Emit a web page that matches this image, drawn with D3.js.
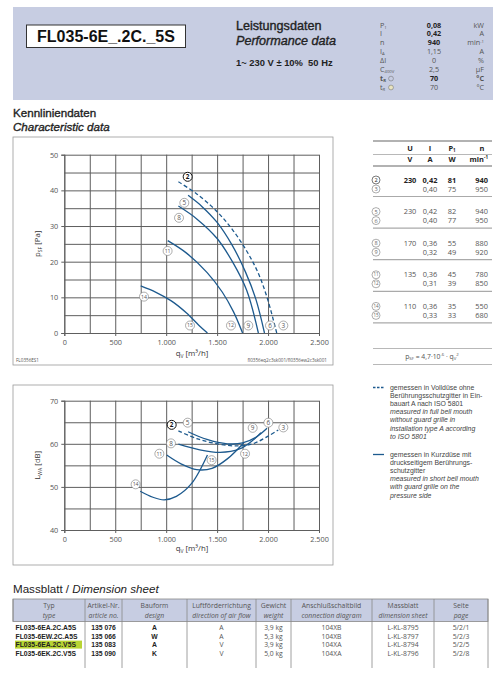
<!DOCTYPE html>
<meta charset="utf-8">
<title>FL035-6E_.2C._5S</title>
<style>
body{margin:0;background:#fff}
svg{display:block;font-family:"Liberation Sans",Arial,sans-serif}
</style>
<svg id="sheet" width="499" height="700"></svg>
<script src="https://cdn.jsdelivr.net/npm/d3@7"></script>
<script>
// ---------- data read from the sheet ----------
const modelName = "FL035-6E_.2C._5S";

const perfSymbols = ["P", "I", "n", "I", "ΔI", "C", "t", "t"];
const perfSubs    = ["1", "", "", "A", "", "400V", "R", "R"];
const perfValues  = ["0,08", "0,42", "940", "1,15", "0", "2,5", "70", "70"];
const perfUnits   = ["kW", "A", "min", "A", "%", "µF", "°C", "°C"];
const perfBold    = [true, true, true, false, false, false, true, false];

const qTicks = [0, 500, 1000, 1500, 2000, 2500];
const qTickLabels = ["0", "500", "1.000", "1.500", "2.000", "2.500"];
const psfTicks = [0, 10, 20, 30, 40, 50];
const lwaTicks = [40, 50, 60, 70];

// static pressure curves [q m3/h, psf Pa]
const psf2to3 = [[1120,42.4],[1300,39],[1500,34],[1650,29],[1790,23],[1900,17],[1990,10],[2085,0]];
const psf5to6 = [[1215,38.6],[1350,35.5],[1500,31],[1650,24.5],[1780,17],[1880,9.5],[1965,0]];
const psf8to9 = [[1120,35.6],[1300,32],[1500,26.5],[1650,20],[1790,12],[1905,0]];
const psf11to12 = [[1015,25.9],[1200,22.4],[1400,17],[1550,11.5],[1660,6],[1750,0]];
const psf14to15 = [[750,13.2],[900,11.4],[1050,9],[1200,5.6],[1320,2.2],[1405,0]];

const psfLabelIds = ["2","5","8","11","14","15","12","9","6","3"];
const psfLabelQ   = [1211,1178,1126,1014,782,1234,1636,1806,2019,2150];
const psfLabelP   = [43.8,36.5,32.3,23,10.2,2.1,2.1,2.1,2.1,2.1];

// sound power curves [q m3/h, LwA dB]
const lwa2to3 = [[1120,63],[1300,61.2],[1500,60],[1700,59.5],[1850,60],[1980,61.5],[2100,63.2]];
const lwa5to6 = [[1215,62.8],[1400,61],[1600,60],[1750,60.2],[1880,61.5],[1990,63.6]];
const lwa8to9 = [[1120,59.9],[1330,58.6],[1530,58],[1720,58.8],[1850,60.8],[1930,62.6]];
const lwa11to12 = [[1005,57.4],[1150,55.3],[1300,54],[1450,54.3],[1600,56.5],[1760,60.2]];
const lwa14to15 = [[745,49],[870,47.6],[980,47],[1100,47.8],[1250,50.8],[1405,57.4]];

const lwaLabelIds = ["2","5","8","11","14","15","12","9","6","3"];
const lwaLabelQ   = [1054,1211,1047,933,700,1446,1774,1849,2003,2150];
const lwaLabelL   = [64.4,64.9,60.1,57.7,50.6,56.2,57.7,63.7,64.9,63.8];

// operating points table
const opIds = ["2","3","5","6","8","9","11","12","14","15"];
const opU   = ["230","","230","","170","","135","","110",""];
const opI   = ["0,42","0,40","0,42","0,40","0,36","0,32","0,36","0,31","0,36","0,33"];
const opP   = ["81","75","82","77","55","49","45","39","35","33"];
const opN   = ["940","950","940","950","880","920","780","850","550","680"];

const legendDashed = ["gemessen in Volldüse ohne", "Berührungsschutzgitter in Ein-", "bauart A nach ISO 5801",
  "measured in full bell mouth", "without guard grille in", "installation type A according", "to ISO 5801"];
const legendSolid = ["gemessen in Kurzdüse mit", "druckseitigem Berührungs-", "schutzgitter",
  "measured in short bell mouth", "with guard grille on the", "pressure side"];

// dimension sheet table
const dimHeadDe = ["Typ", "Artikel-Nr.", "Bauform", "Luftförderrichtung", "Gewicht", "Anschlußschaltbild", "Massblatt", "Seite"];
const dimHeadEn = ["type", "article no.", "design", "direction of air flow", "weight", "connection diagram", "dimension sheet", "page"];
const dimTypes    = ["FL035-6EA.2C.A5S", "FL035-6EW.2C.A5S", "FL035-6EA.2C.V5S", "FL035-6EK.2C.V5S"];
const dimArticles = ["135 076", "135 066", "135 083", "135 090"];
const dimDesign   = ["A", "W", "A", "K"];
const dimAirflow  = ["A", "A", "V", "V"];
const dimWeight   = ["3,9 kg", "5,3 kg", "3,9 kg", "5,0 kg"];
const dimDiagram  = ["104XB", "104XB", "104XA", "104XA"];
const dimSheet    = ["L-KL-8795", "L-KL-8797", "L-KL-8794", "L-KL-8796"];
const dimPage     = ["5/2/1", "5/2/3", "5/2/5", "5/2/8"];
const highlightType = "FL035-6EA.2C.V5S";

// ---------- drawing ----------
const svg = d3.select("#sheet");
const blue = "#1d5a8e";
const grey = "#555";
const chartFont = "'Open Sans','Liberation Sans',sans-serif";

// medium-weight headings: regular face with a hairline stroke
function heading(xp, yp, size, txt, italic) {
  return svg.append("text").attr("x", xp).attr("y", yp).attr("font-size", size)
    .attr("font-style", italic ? "italic" : null).attr("fill", "#222")
    .attr("stroke", "#222").attr("stroke-width", 0.35).text(txt);
}

// header band
svg.append("rect").attr("x", 13).attr("y", 7).attr("width", 480).attr("height", 93).attr("fill", "#c7cde2");
svg.append("rect").attr("x", 26.5).attr("y", 25).attr("width", 159).attr("height", 22.5)
  .attr("fill", "#fff").attr("stroke", "#333").attr("stroke-width", 1);
svg.append("text").attr("x", 106).attr("y", 42).attr("text-anchor", "middle")
  .attr("font-size", 16).attr("font-weight", "bold").attr("fill", "#111").text(modelName);

heading(236, 30, 12.6, "Leistungsdaten");
heading(236, 44.5, 12.6, "Performance data", true);
svg.append("text").attr("x", 236).attr("y", 66).attr("font-size", 9.4).attr("font-weight", "bold").attr("fill", "#222")
  .text("1~ 230 V ± 10%\u00a0 50 Hz");

const perf = svg.append("g").attr("font-family", chartFont).attr("font-size", 7.2).attr("fill", "#555");
perfSymbols.forEach((s, i) => {
  const y = 27.5 + i * 8.9;
  const t = perf.append("text").attr("x", 380).attr("y", y).attr("font-weight", perfBold[i] && i > 5 ? "bold" : null);
  t.append("tspan").text(s);
  if (perfSubs[i]) t.append("tspan").attr("font-size", 4.2).attr("dy", 1).text(perfSubs[i]);
  if (i > 5) {
    perf.append("circle").attr("cx", 391).attr("cy", y - 2.3).attr("r", 2.4)
      .attr("fill", i === 6 ? "none" : "#e9e4c0").attr("stroke", "#666").attr("stroke-width", 0.5);
  }
  perf.append("text").attr("x", 434).attr("y", y).attr("text-anchor", "middle")
    .attr("font-weight", perfBold[i] ? "bold" : null).attr("fill", perfBold[i] ? "#222" : "#555").text(perfValues[i]);
  const u = perf.append("text").attr("x", 484).attr("y", y).attr("text-anchor", "end")
    .attr("font-weight", i === 6 ? "bold" : null);
  u.append("tspan").text(perfUnits[i]);
  if (perfUnits[i] === "min") u.append("tspan").attr("font-size", 4.2).attr("dy", -2.6).text("-1");
});

heading(13, 117, 11.6, "Kennliniendaten");
heading(13, 130.5, 11.6, "Characteristic data", true);

// shared flow scale
const x = d3.scaleLinear().domain([0, 2500]).range([64.3, 319]);

function drawChart(frame, y, yTicks, gridStep, yLabel, ySub, xLabelY, curves, labels) {
  const g = svg.append("g");
  g.append("rect").attr("x", frame[0]).attr("y", frame[1]).attr("width", frame[2]).attr("height", frame[3])
    .attr("fill", "none").attr("stroke", "#999").attr("stroke-width", 0.8);
  const [y0, y1] = y.range();
  const [d0, d1] = y.domain();

  // grid
  g.append("g").attr("transform", `translate(0,${y0})`)
    .call(d3.axisBottom(x).tickValues(d3.range(0, 2501, 250)).tickSize(-(y0 - y1)).tickFormat(""))
    .call(a => a.select(".domain").remove())
    .call(a => a.selectAll("line").attr("stroke", "#5e5e5e").attr("stroke-width", 1));
  g.append("g").attr("transform", `translate(${x(0)},0)`)
    .call(d3.axisLeft(y).tickValues(d3.range(d0, d1 + 0.01, gridStep)).tickSize(-(x(2500) - x(0))).tickFormat(""))
    .call(a => a.select(".domain").remove())
    .call(a => a.selectAll("line").attr("stroke", "#5e5e5e").attr("stroke-width", 1));

  // axes labels
  g.append("g").attr("transform", `translate(0,${y0})`)
    .call(d3.axisBottom(x).tickValues(qTicks).tickSize(3).tickPadding(4).tickFormat((d, i) => qTickLabels[i]))
    .call(a => a.select(".domain").attr("stroke", "#5e5e5e"))
    .call(a => a.selectAll("line").attr("stroke", "#5e5e5e"))
    .call(a => a.selectAll("text").attr("font-family", chartFont).attr("font-size", 7.3).attr("fill", grey));
  g.append("g").attr("transform", `translate(${x(0)},0)`)
    .call(d3.axisLeft(y).tickValues(yTicks).tickSize(3).tickPadding(3))
    .call(a => a.select(".domain").attr("stroke", "#5e5e5e"))
    .call(a => a.selectAll("line").attr("stroke", "#5e5e5e"))
    .call(a => a.selectAll("text").attr("font-family", chartFont).attr("font-size", 7.3).attr("fill", grey));

  const yl = g.append("text").attr("transform", `translate(40,${(y0 + y1) / 2}) rotate(-90)`)
    .attr("text-anchor", "middle").attr("font-family", chartFont).attr("font-size", 7.8).attr("fill", "#333");
  yl.append("tspan").text(yLabel);
  yl.append("tspan").attr("font-size", 5).attr("dy", 1.5).text(ySub);
  yl.append("tspan").attr("dy", -1.5).text(" [" + (ySub === "SF" ? "Pa" : "dB") + "]");

  const xl = g.append("text").attr("x", 192).attr("y", xLabelY).attr("text-anchor", "middle")
    .attr("font-family", chartFont).attr("font-size", 7.8).attr("fill", "#333");
  xl.append("tspan").text("q");
  xl.append("tspan").attr("font-size", 5).attr("dy", 1.5).text("V");
  xl.append("tspan").attr("dy", -1.5).text(" [m³/h]");

  // curves
  const line = d3.line().x(d => x(d[0])).y(d => y(d[1])).curve(d3.curveCatmullRom.alpha(0.5));
  curves.forEach(c => {
    g.append("path").attr("d", line(c.pts)).attr("fill", "none").attr("stroke", blue)
      .attr("stroke-width", 1.3).attr("stroke-dasharray", c.dashed ? "4,2.5" : null);
  });

  // circled point labels
  labels.ids.forEach((id, i) => {
    const b = g.append("g").attr("transform", `translate(${x(labels.q[i])},${y(labels.v[i])})`);
    const dark = id === "2";
    b.append("circle").attr("r", 4.5).attr("fill", "#fff")
      .attr("stroke", dark ? "#111" : "#777").attr("stroke-width", dark ? 1 : 0.6);
    b.append("text").attr("text-anchor", "middle").attr("dy", "0.36em")
      .attr("font-family", chartFont).attr("font-size", id.length > 1 ? 5.2 : 6.4)
      .attr("font-weight", dark ? "bold" : null).attr("fill", dark ? "#111" : "#555").text(id);
  });
  return g;
}

const yP = d3.scaleLinear().domain([0, 50]).range([333, 154.7]);
const pressureChart = drawChart([13, 137, 320, 228], yP, psfTicks, 5, "p", "SF", 356,
  [{pts: psf2to3, dashed: true}, {pts: psf5to6}, {pts: psf8to9}, {pts: psf11to12}, {pts: psf14to15}],
  {ids: psfLabelIds, q: psfLabelQ, v: psfLabelP});
pressureChart.append("text").attr("x", 16).attr("y", 361.5).attr("font-family", chartFont).attr("font-size", 4.6).attr("fill", "#555").text("FL0356ES1");
pressureChart.append("text").attr("x", 327).attr("y", 361.5).attr("text-anchor", "end").attr("font-family", chartFont)
  .attr("font-size", 4.6).attr("fill", "#555").text("fl0356eq2c3sk001/fl0356ew2c3sk001");

const yL = d3.scaleLinear().domain([40, 70]).range([530, 400.7]);
drawChart([13, 385, 320, 180], yL, lwaTicks, 5, "L", "WA", 551,
  [{pts: lwa2to3, dashed: true}, {pts: lwa5to6}, {pts: lwa8to9}, {pts: lwa11to12}, {pts: lwa14to15}],
  {ids: lwaLabelIds, q: lwaLabelQ, v: lwaLabelL});

// operating point table
const tb = svg.append("g").attr("font-family", chartFont).attr("font-size", 7.4).attr("fill", "#555");
const colX = [410, 430, 452, 488];
const colAnchor = ["middle", "middle", "middle", "end"];
function hline(y, w, c) {
  tb.append("line").attr("x1", 373).attr("x2", 492).attr("y1", y).attr("y2", y).attr("stroke", c || "#999").attr("stroke-width", w);
}
hline(141, 1.3); hline(154.5, 0.7); hline(166, 1.3);
["U", "I", "P", "n"].forEach((h, i) => {
  const t = tb.append("text").attr("x", colX[i]).attr("y", 150.5).attr("text-anchor", i === 3 ? "middle" : colAnchor[i])
    .attr("dx", i === 3 ? -6 : 0).attr("font-weight", "bold").attr("fill", "#222");
  t.append("tspan").text(h);
  if (h === "P") t.append("tspan").attr("font-size", 4.5).attr("dy", 1.5).text("1");
});
["V", "A", "W", "min"].forEach((h, i) => {
  const t = tb.append("text").attr("x", colX[i]).attr("y", 162).attr("text-anchor", colAnchor[i])
    .attr("font-weight", "bold").attr("fill", "#222");
  t.append("tspan").text(h);
  if (h === "min") t.append("tspan").attr("font-size", 4.5).attr("dy", -3).text("-1");
});
opIds.forEach((id, i) => {
  const grp = Math.floor(i / 2);
  const y = 182.5 + grp * 31.6 + (i % 2) * 9;
  const bold = i === 0;
  const b = tb.append("g").attr("transform", `translate(376,${y - 2.5})`);
  b.append("circle").attr("r", 4).attr("fill", "#fff").attr("stroke", bold ? "#222" : "#777").attr("stroke-width", 0.6);
  b.append("text").attr("text-anchor", "middle").attr("dy", "0.36em").attr("font-size", id.length > 1 ? 4.5 : 5.6)
    .attr("fill", bold ? "#222" : "#666").text(id);
  [opU[i], opI[i], opP[i], opN[i]].forEach((v, k) => {
    tb.append("text").attr("x", colX[k]).attr("y", y).attr("text-anchor", colAnchor[k])
      .attr("font-weight", bold ? "bold" : null).attr("fill", bold ? "#222" : "#555").text(v);
  });
  if (i % 2 === 1) hline(y + 5, 1.2, "#aaa");
});
hline(348.5, 0.7); hline(364.5, 0.7);
const f = tb.append("text").attr("x", 432).attr("y", 358.5).attr("text-anchor", "middle").attr("font-size", 6.8);
f.append("tspan").text("p");
f.append("tspan").attr("font-size", 4.3).attr("dy", 1.5).text("SF");
f.append("tspan").attr("dy", -1.5).text(" = 4,7·10");
f.append("tspan").attr("font-size", 4.3).attr("dy", -3).text("-6");
f.append("tspan").attr("dy", 3).text(" · q");
f.append("tspan").attr("font-size", 4.3).attr("dy", 1.5).text("V");
f.append("tspan").attr("font-size", 4.3).attr("dy", -4.5).text("2");

// legend
const lg = svg.append("g").attr("font-size", 6.9).attr("fill", "#444");
lg.append("line").attr("x1", 373).attr("x2", 384).attr("y1", 387.5).attr("y2", 387.5)
  .attr("stroke", blue).attr("stroke-width", 1.3).attr("stroke-dasharray", "2.5,1.5");
legendDashed.forEach((s, i) => {
  lg.append("text").attr("x", 390).attr("y", 389.5 + i * 8.2).attr("font-style", i > 2 ? "italic" : null).text(s);
});
lg.append("line").attr("x1", 373).attr("x2", 384).attr("y1", 454.5).attr("y2", 454.5)
  .attr("stroke", blue).attr("stroke-width", 1.3);
legendSolid.forEach((s, i) => {
  lg.append("text").attr("x", 390).attr("y", 456.5 + i * 8.2).attr("font-style", i > 2 ? "italic" : null).text(s);
});

// dimension sheet
svg.append("text").attr("x", 13).attr("y", 593).attr("font-size", 11.6).attr("fill", "#222")
  .call(t => { t.append("tspan").text("Massblatt / "); t.append("tspan").attr("font-style", "italic").text("Dimension sheet"); });

const cols = [13, 85, 122, 187, 256, 291, 372, 434, 488];
const dt = svg.append("g").attr("font-family", chartFont).attr("font-size", 6.8);
dt.append("rect").attr("x", 13).attr("y", 599).attr("width", 475).attr("height", 22.5)
  .attr("fill", "#c7cde2").attr("stroke", "#888").attr("stroke-width", 0.8);
cols.forEach((cx, i) => {
  dt.append("line").attr("x1", cx).attr("x2", cx).attr("y1", 599).attr("y2", i === 0 ? 621.5 : 668)
    .attr("stroke", "#888").attr("stroke-width", 0.8);
});
dimHeadDe.forEach((h, i) => {
  const cx = (cols[i] + cols[i + 1]) / 2;
  dt.append("text").attr("x", cx).attr("y", 607.5).attr("text-anchor", "middle").attr("fill", "#555").text(h);
  dt.append("text").attr("x", cx).attr("y", 617.5).attr("text-anchor", "middle").attr("fill", "#555")
    .attr("font-style", "italic").text(dimHeadEn[i]);
});
dimTypes.forEach((t, i) => {
  const y = 630 + i * 8.5;
  if (t === highlightType) {
    dt.append("rect").attr("x", 15).attr("y", y - 6.4).attr("width", 67).attr("height", 8).attr("fill", "#b8d433");
  }
  dt.append("text").attr("x", 15.5).attr("y", y).attr("font-family", "'Liberation Sans',Arial,sans-serif")
    .attr("font-weight", "bold").attr("font-size", 6.8).attr("fill", "#222").text(t);
  const cells = [dimArticles[i], dimDesign[i], dimAirflow[i], dimWeight[i], dimDiagram[i], dimSheet[i], dimPage[i]];
  cells.forEach((v, k) => {
    const cx = (cols[k + 1] + cols[k + 2]) / 2;
    dt.append("text").attr("x", cx).attr("y", y).attr("text-anchor", "middle")
      .attr("font-family", k < 2 ? "'Liberation Sans',Arial,sans-serif" : chartFont)
      .attr("font-weight", k < 2 ? "bold" : null).attr("fill", k < 2 ? "#222" : "#555").text(v);
  });
});
</script>
